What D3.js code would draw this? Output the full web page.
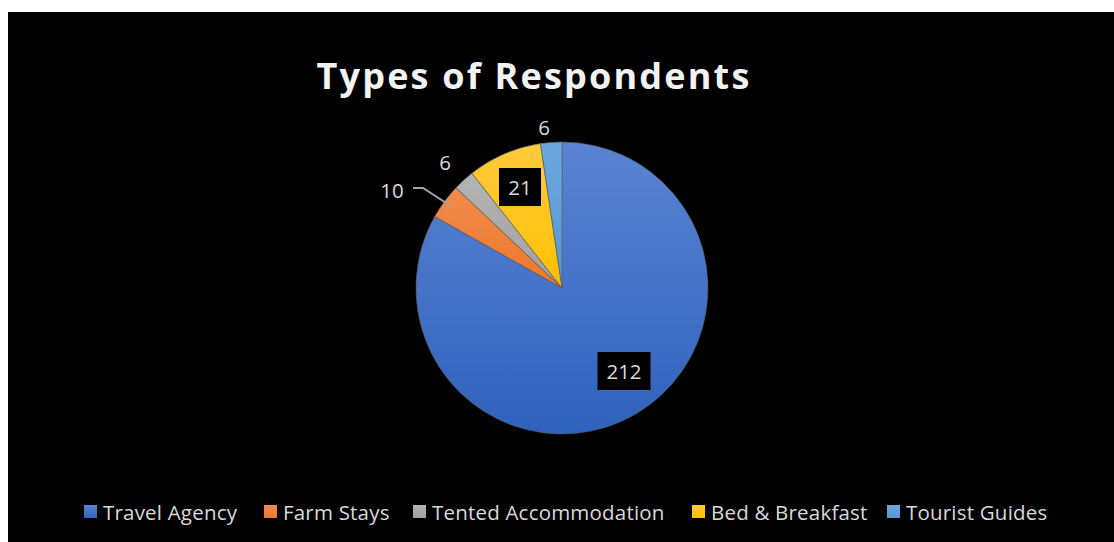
<!DOCTYPE html>
<html>
<head>
<meta charset="utf-8">
<script src="https://cdn.jsdelivr.net/npm/d3@7"></script>
<style>
  html, body { margin: 0; padding: 0; background: #ffffff; }
  svg { display: block; }
</style>
</head>
<body>
<svg id="chart" width="1114" height="542"></svg>
<script>
// Respondent types and counts
const categories = ["Travel Agency", "Farm Stays", "Tented Accommodation", "Bed & Breakfast", "Tourist Guides"];
const counts = [212, 10, 6, 21, 6];
const colorsTop = ["#5b84d3", "#f28c4e", "#b4b4b4", "#ffca3e", "#6ca8de"];
const colorsBottom = ["#2f62bd", "#ed7728", "#a0a0a0", "#ffc000", "#5597d4"];

const svg = d3.select("#chart");
const W = 1114, H = 542;
const font = "'Open Sans', sans-serif";

// chart area
svg.append("rect").attr("x", 8).attr("y", 12).attr("width", W - 8).attr("height", H - 12).attr("fill", "#000");

// title
svg.append("text")
  .attr("x", 534).attr("y", 89)
  .attr("text-anchor", "middle")
  .attr("font-family", font)
  .attr("font-weight", "bold")
  .attr("font-size", 36)
  .attr("letter-spacing", 2.2)
  .attr("fill", "#f2f2f2")
  .text("Types of Respondents");

const cx = 562, cy = 288, R = 146;
const data = categories.map((c, i) => ({ name: c, value: counts[i], i }));

const pie = d3.pie().value(d => d.value).sort(null);
const arc = d3.arc().innerRadius(0).outerRadius(R);
const arcs = pie(data);

const defs = svg.append("defs");
data.forEach((d, i) => {
  const g = defs.append("linearGradient").attr("id", "grad" + i)
    .attr("x1", 0).attr("y1", 0).attr("x2", 0).attr("y2", 1);
  g.append("stop").attr("offset", "0%").attr("stop-color", colorsTop[i]);
  g.append("stop").attr("offset", "100%").attr("stop-color", colorsBottom[i]);
});

const gPie = svg.append("g").attr("transform", `translate(${cx},${cy})`);
gPie.selectAll("path").data(arcs).enter().append("path")
  .attr("d", arc)
  .attr("fill", d => `url(#grad${d.data.i})`)
  .attr("stroke", "#5a5a5a")
  .attr("stroke-width", 0.6);

// data labels
const labelColor = "#d9d9d9";
const boxedPos = { 0: [62, 83], 3: [-42, -101] };                 // inside labels on black boxes
const outsidePos = { 1: [-170, -98], 2: [-117, -126], 4: [-18, -161] }; // labels outside the pie

arcs.forEach(a => {
  const i = a.data.i;
  const txt = String(a.data.value);
  if (boxedPos[i]) {
    const [x, y] = boxedPos[i];
    const bw = txt.length * 11 + 20, bh = 38;
    gPie.append("rect").attr("x", x - bw / 2).attr("y", y - bh / 2)
      .attr("width", bw).attr("height", bh).attr("fill", "#000");
    gPie.append("text").attr("x", x).attr("y", y + 7.5)
      .attr("text-anchor", "middle").attr("font-family", font)
      .attr("font-size", 20.5).attr("fill", labelColor).text(txt);
  } else {
    const [x, y] = outsidePos[i];
    gPie.append("text").attr("x", x).attr("y", y + 7.5)
      .attr("text-anchor", "middle").attr("font-family", font)
      .attr("font-size", 20.5).attr("fill", labelColor).text(txt);
  }
});

// leader line for the Farm Stays label
const fs = arcs[1];
const fsMid = (fs.startAngle + fs.endAngle) / 2;
const pEdge = [Math.sin(fsMid) * (R - 6), -Math.cos(fsMid) * (R - 6)];
gPie.append("polyline")
  .attr("points", [[-149, -100], [-139, -100], pEdge].map(p => p.join(",")).join(" "))
  .attr("fill", "none").attr("stroke", "#a6a6a6").attr("stroke-width", 2);

// legend
const legendX = [84, 264, 413, 692, 887];
const lg = svg.append("g");
categories.forEach((c, i) => {
  const g = lg.append("g").attr("transform", `translate(${legendX[i]},512)`);
  g.append("rect").attr("x", 0).attr("y", -7).attr("width", 13).attr("height", 13)
    .attr("fill", `url(#grad${i})`);
  g.append("text").attr("x", 19).attr("y", 7.5)
    .attr("font-family", font).attr("font-size", 20.5)
    .attr("letter-spacing", 0.2)
    .attr("fill", labelColor).text(c);
});
</script>
</body>
</html>
